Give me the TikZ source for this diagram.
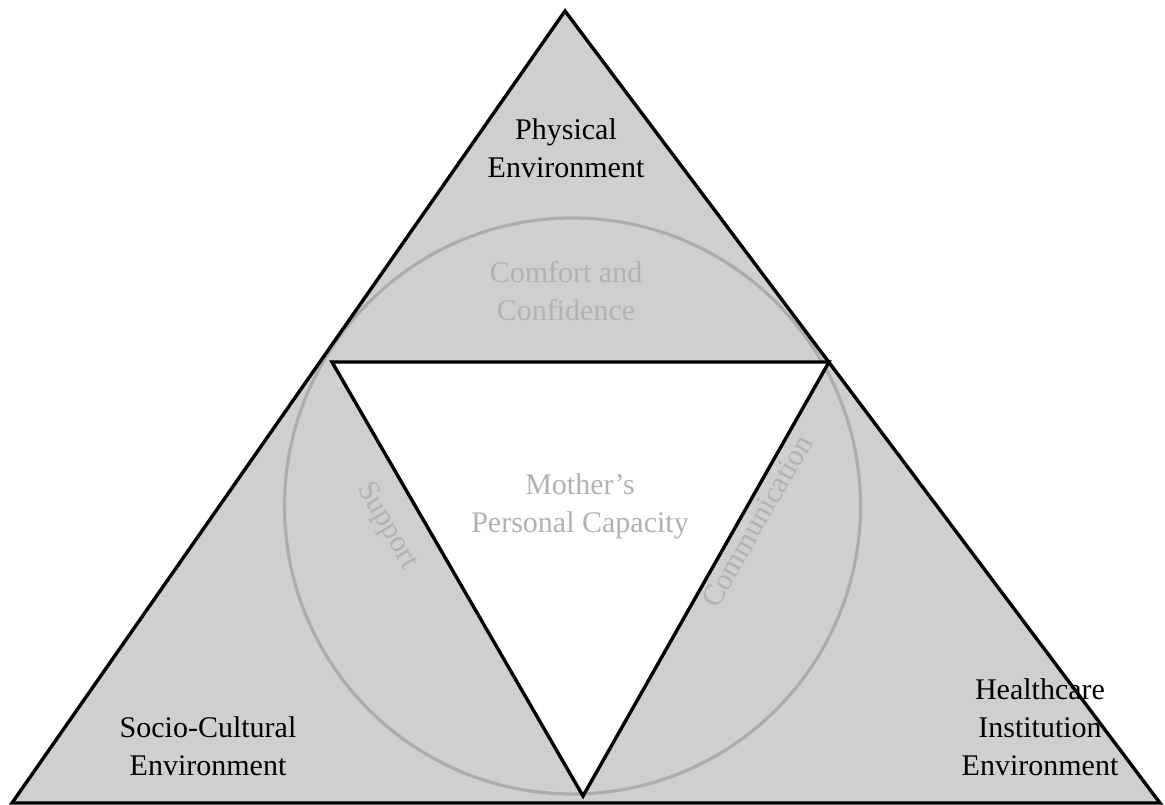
\documentclass[tikz,border=0pt]{standalone}
\usepackage{fontspec}
\setmainfont{Liberation Serif}
\definecolor{fillgray}{RGB}{208,206,207}
\definecolor{ringgray}{RGB}{172,172,172}
\definecolor{txtgray}{RGB}{178,178,178}
\begin{document}
\begin{tikzpicture}[x=1pt,y=-1pt,
  edge/.style={draw=black,line width=3.4pt,line join=miter},
  ring/.style={draw=ringgray,line width=3.2pt},
  lbl/.style={align=center,inner sep=0pt,font=\fontsize{30}{38}\selectfont},
  glbl/.style={lbl,text=txtgray}]
\useasboundingbox (0,0) rectangle (1165,805);
\coordinate (A) at (565,11);
\coordinate (B) at (12,803);
\coordinate (C) at (1160,803);
\coordinate (P) at (332,362);
\coordinate (Q) at (829,362);
\coordinate (R) at (583,796);
\coordinate (O) at (572.5,506);
\fill[fillgray] (A) -- (B) -- (C) -- cycle;
\draw[ring] (O) circle[radius=288];
\draw[edge,fill=white] (P) -- (Q) -- (R) -- cycle;
\draw[edge] (A) -- (B) -- (C) -- cycle;
\node[lbl] (phys) at (566,148) {Physical\\Environment};
\node[glbl] (comf) at (566,291) {Comfort and\\Confidence};
\node[glbl] (moth) at (580,506) {Mother’s\\Personal Capacity};
\node[glbl,rotate=-60] (supp) at (387,526) {Support};
\node[glbl,rotate=60] (comm) at (757,521) {Communication};
\node[lbl] (soc) at (208,746) {Socio-Cultural\\Environment};
\node[lbl] (hlth) at (1040,727) {Healthcare\\Institution\\Environment};
\end{tikzpicture}
\end{document}
